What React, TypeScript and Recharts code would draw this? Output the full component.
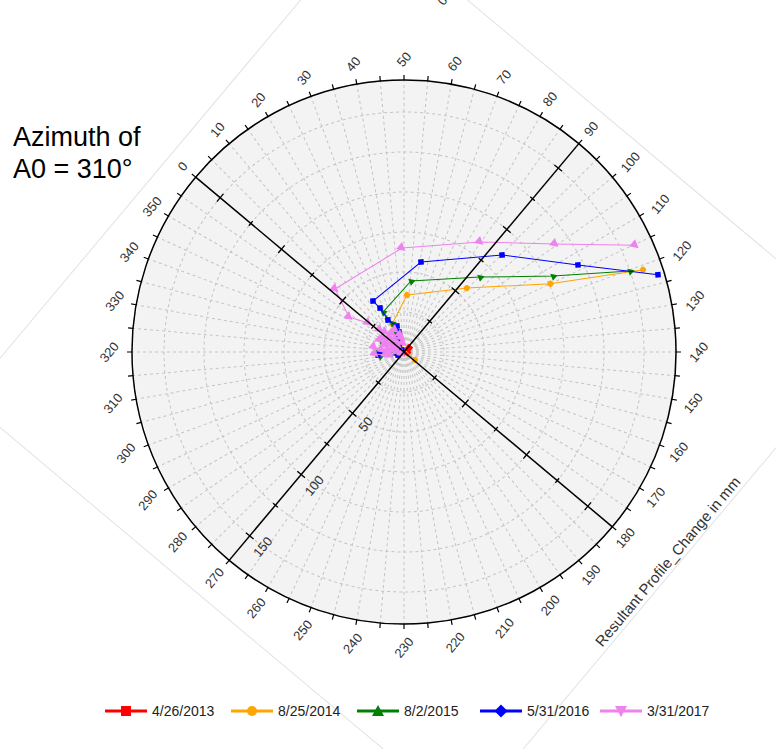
import React from 'react'
import { RadarChart, PolarGrid, PolarAngleAxis, PolarRadiusAxis, Radar } from 'recharts'

// series (survey dates)
const seriesNames = ['4/26/2013', '8/25/2014', '8/2/2015', '5/31/2016', '3/31/2017']
const seriesColors = ['#ff0000', '#ffa500', '#008000', '#0000ff', '#ee82ee']
const seriesMarkers = ['square', 'circle', 'triangle', 'diamond', 'triangleDown']

// azimuth relative to A0 (deg) and resultant change (mm), from surface down
const angles2013 = [101, 150, 0]
const values2013 = [4, 2, 0]
const angles2014 = [121, 115, 94.5, 53, 27, 25, 20, 176]
const values2014 = [158, 101, 56, 35.7, 19, 11.7, 5, 8.5]
const angles2015 = [120.3, 113, 95.4, 55.6, 22.3, 27.5, 27.2, 23.4, 342, 320, 310.5, 320]
const values2015 = [150, 104.5, 66.7, 44.6, 28.2, 19.6, 12.9, 7, 14.9, 16.3, 15.2, 5.6]
const angles2016 = [123.1, 113.4, 95.3, 60.7, 18.7, 21.4, 23.4, 34.9, 36, 28.2, 34.7, 10.2, 5, 320, 313.4, 293.4]
const values2016 = [165.9, 121.6, 86.2, 57.2, 37.3, 31.3, 22.4, 16.8, 12.9, 10.1, 7.1, 4.9, 1.8, 15, 16.4, 4.2]
const angles2017 = [
  115.2, 104.4, 84.6, 48.9, 2.4, 352.5, 359, 2.5, 6.5, 17.7, 27.8, 36.8, 41.9, 7, 13.1, 43.7, 9.4, 350.5, 353.7,
  346.6, 340.2, 352.5, 346.6, 329.5, 327, 325, 329.5, 316, 310.5, 308, 320, 275,
]
const values2017 = [
  159.1, 116, 83.6, 65, 58.4, 40.7, 28.9, 20.4, 17.2, 14, 14.9, 10.9, 8.8, 12.8, 9.4, 5.7, 5.8, 12.3, 15.8,
  16.8, 12.7, 8.2, 5.6, 7.6, 10.1, 13.8, 19, 18.2, 11.4, 8.9, 3.75, 1.8,
]

const angleTicks = Array.from({ length: 72 }, (_, i) => i * 5)
const radiusTicks = [0, 25, 50, 75, 100, 125, 150, 170]
const radiusLabels = [50, 100, 150]

const seriesAngles = [angles2013, angles2014, angles2015, angles2016, angles2017]
const seriesValues = [values2013, values2014, values2015, values2016, values2017]

const rows: Record<string, number>[] = []
seriesAngles.forEach((angs, k) => {
  angs.forEach((a, i) => rows.push({ angle: a, ['s' + k]: seriesValues[k][i] }))
})

const W = 629
const H = 653
const CX = 318
const CY = 306
const R = 272
const FONT = "Arial, 'Liberation Sans', sans-serif"

function Marker({ kind, x, y, color, s = 3 }: { kind: string; x: number; y: number; color: string; s?: number }) {
  if (kind === 'circle') return <circle cx={x} cy={y} r={s} fill={color} />
  if (kind === 'square') return <rect x={x - s} y={y - s} width={s * 2} height={s * 2} fill={color} />
  if (kind === 'diamond')
    return <polygon points={`${x},${y - s * 1.3} ${x + s * 1.3},${y} ${x},${y + s * 1.3} ${x - s * 1.3},${y}`} fill={color} />
  if (kind === 'triangle')
    return <polygon points={`${x},${y - s * 1.2} ${x + s * 1.2},${y + s} ${x - s * 1.2},${y + s}`} fill={color} />
  return <polygon points={`${x},${y + s * 1.2} ${x + s * 1.2},${y - s} ${x - s * 1.2},${y - s}`} fill={color} />
}

const makeShape = (k: number) => (props: any) => {
  const key = 's' + k
  const pts = (props.points || []).filter((p: any) => p.payload && p.payload[key] != null && Number.isFinite(p.x))
  const size = k === 4 ? 3.8 : 3
  return (
    <g>
      <polyline
        points={pts.map((p: any) => `${p.x},${p.y}`).join(' ')}
        fill="none"
        stroke={seriesColors[k]}
        strokeWidth={1}
      />
      {pts.map((p: any, i: number) => (
        <Marker key={i} kind={seriesMarkers[k]} x={p.x} y={p.y} color={seriesColors[k]} s={size} />
      ))}
    </g>
  )
}

function AngleTick(props: any) {
  const { x, y, payload } = props
  const v = payload.value
  if (v % 10 !== 0) return <g />
  const dx = x - CX
  const dy = y - CY
  const len = Math.sqrt(dx * dx + dy * dy) || 1
  const ux = dx / len
  const uy = dy / len
  const w = String(v).length * 7.2
  const off = 7 + Math.abs(ux) * w / 2 + Math.abs(uy) * 5
  return (
    <text
      x={x + ux * off}
      y={y + uy * off}
      textAnchor="middle"
      dominantBaseline="central"
      fontSize={13}
      fontFamily={FONT}
      fill="#333"
    >
      {v}
    </text>
  )
}

const makeRadiusTick = (axisAngle: number, showLabel: boolean) => (props: any) => {
  const { x, y, payload } = props
  const v = payload.value
  if (v === 0 || v === 170) return <g />
  const big = v % 50 === 0
  const h = big ? 5 : 3
  const horizontalAxis = axisAngle === 0 || axisAngle === 180
  return (
    <g>
      {horizontalAxis ? (
        <line x1={x} y1={y - h} x2={x} y2={y + h} stroke="#000" strokeWidth={1.3} />
      ) : (
        <line x1={x - h} y1={y} x2={x + h} y2={y} stroke="#000" strokeWidth={1.3} />
      )}
      {showLabel && radiusLabels.includes(v) ? (
        <text
          x={x}
          y={y + 17}
          textAnchor="middle"
          dominantBaseline="central"
          fontSize={13}
          fontFamily={FONT}
          fill="#333"
        >
          {v}
        </text>
      ) : null}
    </g>
  )
}

const axisAngles = [180, 0, 90, -90]
const legendLefts = [105, 231, 357, 480, 600]

function LegendIcon({ k }: { k: number }) {
  return (
    <svg width={42} height={14} style={{ display: 'block' }}>
      <line x1={0} y1={7} x2={42} y2={7} stroke={seriesColors[k]} strokeWidth={3} />
      <Marker kind={seriesMarkers[k]} x={21} y={7} color={seriesColors[k]} s={5} />
    </svg>
  )
}

export default function App() {
  return (
    <div
      style={{
        position: 'absolute',
        left: 0,
        top: 0,
        width: 776,
        height: 749,
        overflow: 'hidden',
        background: '#fff',
        fontFamily: FONT,
      }}
    >
      <div
        style={{
          position: 'absolute',
          left: 404 - CX,
          top: 352 - CY,
          width: W,
          height: H,
          boxSizing: 'border-box',
          border: '1px solid #e2e2e2',
          transformOrigin: `${CX}px ${CY}px`,
          transform: 'rotate(-50deg)',
        }}
      >
        <div
          style={{
            position: 'absolute',
            left: CX - R,
            top: CY - R,
            width: R * 2,
            height: R * 2,
            borderRadius: '50%',
            background: '#f3f3f3',
          }}
        />
        <div style={{ position: 'absolute', left: -1, top: -1 }}>
          <RadarChart width={W} height={H} data={rows} cx={CX} cy={CY} outerRadius={R} margin={{ top: 0, right: 0, bottom: 0, left: 0 }}>
            <PolarGrid gridType="circle" stroke="#c4c4c4" strokeDasharray="3 3" />
            <PolarAngleAxis
              type="number"
              dataKey="angle"
              domain={[0, 360]}
              ticks={angleTicks as any}
              axisLineType="circle"
              axisLine={{ stroke: '#000', strokeWidth: 1.5 }}
              tickLine={{ stroke: '#000', strokeWidth: 1.2 }}
              tickSize={5}
              tick={(p: any) => <AngleTick {...p} />}
            />
            {axisAngles.map((ang, i) => (
              <PolarRadiusAxis
                key={i}
                radiusAxisId={i}
                angle={ang}
                type="number"
                domain={[0, 170]}
                allowDataOverflow
                ticks={radiusTicks as any}
                axisLine={{ stroke: '#000', strokeWidth: 1.5 }}
                tick={makeRadiusTick(ang, i === 0)}
              />
            ))}
            {seriesNames.map((name, k) => (
              <Radar
                key={name}
                name={name}
                dataKey={'s' + k}
                shape={makeShape(k)}
                dot={false}
                isAnimationActive={false}
              />
            ))}
          </RadarChart>
        </div>
        <div
          style={{
            position: 'absolute',
            left: CX + 8 - 150,
            top: CY + 336 - 9,
            width: 300,
            lineHeight: '18px',
            textAlign: 'center',
            fontSize: 15,
            color: '#333',
          }}
        >
          Resultant Profile_Change in mm
        </div>
        <div style={{ position: 'absolute', left: CX + 293 - 10, top: CY - 199 - 6, width: 20, lineHeight: '16px', textAlign: 'center', fontSize: 13, color: '#333' }}>
          0
        </div>
      </div>

      <div style={{ position: 'absolute', left: 13, top: 121, fontSize: 27, lineHeight: '32px', color: '#000' }}>
        Azimuth of
        <br />
        A0 = 310°
      </div>

      {seriesNames.map((name, k) => (
        <div
          key={name}
          style={{
            position: 'absolute',
            left: legendLefts[k],
            top: 703,
            display: 'flex',
            alignItems: 'center',
            fontSize: 14,
            color: '#222',
          }}
        >
          <LegendIcon k={k} />
          <span style={{ marginLeft: 5 }}>{name}</span>
        </div>
      ))}
    </div>
  )
}
